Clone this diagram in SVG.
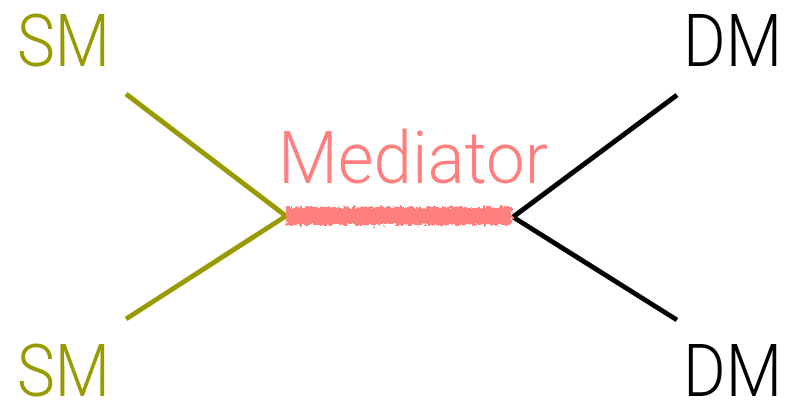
<svg xmlns="http://www.w3.org/2000/svg" width="788" height="401" viewBox="0 0 788 401">
<style>
.lbl{font-family:Roboto,"Liberation Sans",sans-serif;font-weight:300;font-size:72px}
.sm{fill:#999900}
.dm{fill:#000000}
.med{fill:#FF7F7F}
.smline{stroke:#999900;stroke-width:5;fill:none;stroke-linecap:butt}
.dmline{stroke:#000000;stroke-width:5;fill:none;stroke-linecap:butt}
</style>
<defs>
<filter id="rough" x="-5%" y="-100%" width="110%" height="300%">
<feTurbulence type="fractalNoise" baseFrequency="0.3" numOctaves="3" seed="5" result="n"/>
<feDisplacementMap in="SourceGraphic" in2="n" scale="8" xChannelSelector="R" yChannelSelector="G"/>
</filter>
</defs>
<g id="connectors">
<line class="smline" x1="126" y1="94" x2="286" y2="216"/>
<line class="smline" x1="126" y1="319" x2="286" y2="216"/>
<line class="dmline" x1="677" y1="95" x2="513" y2="217"/>
<line class="dmline" x1="677" y1="320" x2="513" y2="217"/>
<g id="mediator-line" filter="url(#rough)">
<rect x="286" y="207" width="226" height="18" fill="#FF7F7F"/>
</g>
</g>
<g id="sm-top"><text class="lbl sm" x="17" y="66" textLength="93" lengthAdjust="spacingAndGlyphs">SM</text></g>
<g id="sm-bottom"><text class="lbl sm" x="17" y="396" textLength="93" lengthAdjust="spacingAndGlyphs">SM</text></g>
<g id="dm-top"><text class="lbl dm" x="683" y="66" textLength="99" lengthAdjust="spacingAndGlyphs">DM</text></g>
<g id="dm-bottom"><text class="lbl dm" x="683" y="396" textLength="99" lengthAdjust="spacingAndGlyphs">DM</text></g>
<g id="mediator"><text class="lbl med" x="278" y="183" textLength="270" lengthAdjust="spacingAndGlyphs">Mediator</text></g>
</svg>
